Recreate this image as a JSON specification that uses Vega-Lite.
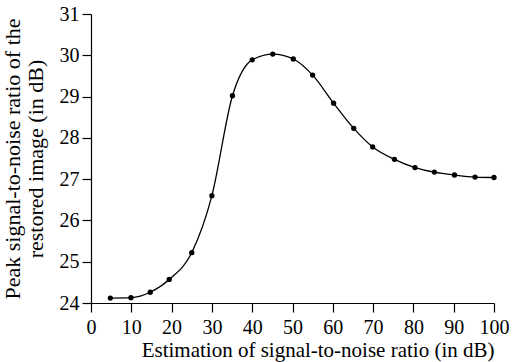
{
  "$schema": "https://vega.github.io/schema/vega-lite/v6.json",
  "width": 403,
  "height": 289,
  "autosize": {"type": "none"},
  "padding": {"left": 91, "top": 14, "right": 18, "bottom": 59},
  "background": "white",
  "config": {
    "view": {"stroke": null},
    "font": "Liberation Serif",
    "axis": {
      "domainColor": "black",
      "tickColor": "black",
      "labelColor": "black",
      "titleColor": "black",
      "grid": false,
      "titleFontWeight": "normal",
      "tickSize": 9,
      "domainWidth": 1.2,
      "tickWidth": 1.2
    }
  },
  "data": {
    "values": [
      {"snr": 4.8, "psnr": 24.12},
      {"snr": 9.9, "psnr": 24.13},
      {"snr": 14.7, "psnr": 24.26},
      {"snr": 19.4, "psnr": 24.57},
      {"snr": 25.0, "psnr": 25.22},
      {"snr": 30.0, "psnr": 26.6},
      {"snr": 35.1, "psnr": 29.02},
      {"snr": 40.0, "psnr": 29.89},
      {"snr": 45.1, "psnr": 30.03},
      {"snr": 50.2, "psnr": 29.91},
      {"snr": 55.0, "psnr": 29.52},
      {"snr": 60.2, "psnr": 28.84},
      {"snr": 65.2, "psnr": 28.23},
      {"snr": 69.9, "psnr": 27.78},
      {"snr": 75.3, "psnr": 27.48},
      {"snr": 80.4, "psnr": 27.28},
      {"snr": 85.2, "psnr": 27.17},
      {"snr": 90.2, "psnr": 27.1},
      {"snr": 95.3, "psnr": 27.05},
      {"snr": 100.0, "psnr": 27.04}
    ]
  },
  "encoding": {
    "x": {
      "field": "snr",
      "type": "quantitative",
      "scale": {"domain": [0, 100], "nice": false},
      "axis": {
        "values": [0, 10, 20, 30, 40, 50, 60, 70, 80, 90, 100],
        "title": "Estimation of signal-to-noise ratio (in dB)",
        "labelFont": "Liberation Serif",
        "labelFontSize": 20,
        "titleFont": "Liberation Serif",
        "titleFontSize": 21,
        "titleAnchor": "end",
        "titlePadding": 2,
        "labelPadding": 5,
        "labelFlush": false
      }
    },
    "y": {
      "field": "psnr",
      "type": "quantitative",
      "scale": {"domain": [24, 31], "nice": false, "zero": false},
      "axis": {
        "values": [24, 25, 26, 27, 28, 29, 30, 31],
        "title": ["Peak signal-to-noise ratio of the", "restored image (in dB)"],
        "labelFont": "Liberation Serif",
        "labelFontSize": 20,
        "titleFont": "Liberation Serif",
        "titleFontSize": 22,
        "titleLineHeight": 23,
        "titlePadding": 12,
        "labelPadding": 3
      }
    }
  },
  "layer": [
    {
      "mark": {"type": "line", "interpolate": "monotone", "color": "black", "strokeWidth": 1.3}
    },
    {
      "mark": {"type": "point", "filled": true, "color": "black", "size": 28, "opacity": 1}
    }
  ]
}
